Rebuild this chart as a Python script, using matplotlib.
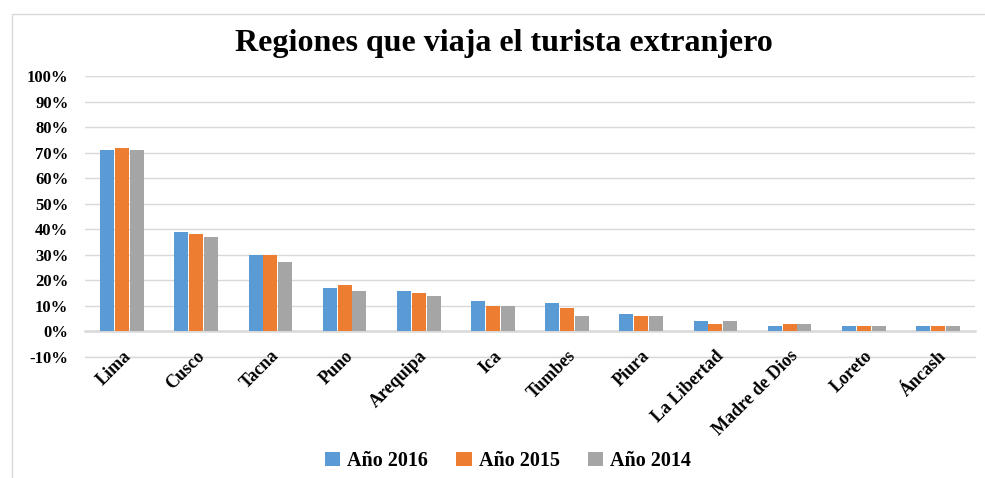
import matplotlib
matplotlib.use("Agg")
import matplotlib.pyplot as plt
import numpy as np
from matplotlib.patches import Rectangle

regions = ["Lima", "Cusco", "Tacna", "Puno", "Arequipa", "Ica", "Tumbes",
           "Piura", "La Libertad", "Madre de Dios", "Loreto", "Áncash"]
anio_2016 = [0.71, 0.39, 0.30, 0.17, 0.16, 0.12, 0.11, 0.07, 0.04, 0.02, 0.02, 0.02]
anio_2015 = [0.72, 0.38, 0.30, 0.18, 0.15, 0.10, 0.09, 0.06, 0.03, 0.03, 0.02, 0.02]
anio_2014 = [0.71, 0.37, 0.27, 0.16, 0.14, 0.10, 0.06, 0.06, 0.04, 0.03, 0.02, 0.02]
series_labels = ["Año 2016", "Año 2015", "Año 2014"]
y_ticks = [-0.1, 0.0, 0.1, 0.2, 0.3, 0.4, 0.5, 0.6, 0.7, 0.8, 0.9, 1.0]
y_ticklabels = ["-10%", "0%", "10%", "20%", "30%", "40%", "50%", "60%", "70%", "80%", "90%", "100%"]

colors = ["#5B9BD5", "#ED7D31", "#A5A5A5"]
serif = ["Liberation Serif", "DejaVu Serif"]
plt.rcParams["font.family"] = serif
plt.rcParams["font.weight"] = "bold"

fig = plt.figure(figsize=(9.85, 4.78), dpi=100)
fig.patches.append(Rectangle((12 / 985, -0.01), 1.0, 1 - 14 / 478 + 0.01,
                             transform=fig.transFigure, fill=False,
                             edgecolor="#D9D9D9", linewidth=1.0))
ax = fig.add_axes([85 / 985, 1 - 357 / 478, 890 / 985, (357 - 76) / 478])
ax.set_axisbelow(True)

x = np.arange(len(regions))
w = 0.19
for i, (vals, lab, c) in enumerate(zip([anio_2016, anio_2015, anio_2014], series_labels, colors)):
    ax.bar(x + (i - 1) * 0.2, vals, width=w, color=c, label=lab, zorder=3)

ax.set_xlim(-0.5, len(regions) - 0.5)
ax.set_ylim(-0.1, 1.0)
ax.set_yticks(y_ticks)
ax.set_yticklabels(y_ticklabels, fontsize=12, fontweight="bold")
ax.yaxis.grid(True, color="#D9D9D9", linewidth=1.0)
ax.axhline(y_ticks[0], color="#D9D9D9", linewidth=1.0, clip_on=False, zorder=0.2)
for s in ax.spines.values():
    s.set_visible(False)
ax.spines["bottom"].set_visible(True)
ax.spines["bottom"].set_position(("data", 0))
ax.spines["bottom"].set_color("#D9D9D9")
ax.spines["bottom"].set_linewidth(1.8)
ax.spines["bottom"].set_zorder(2)
ax.tick_params(axis="y", length=0, pad=12)
ax.tick_params(axis="x", length=0, pad=11.5)
ax.set_xticks(x)
ax.set_xticklabels(regions, rotation=45, ha="right", rotation_mode="anchor",
                   fontsize=13, fontweight="bold")

fig.text(0.512, 1 - 44 / 478, "Regiones que viaja el turista extranjero",
         ha="center", va="center", fontsize=23, fontweight="bold")

fig.legend(loc="center", bbox_to_anchor=(508 / 985, 1 - 461 / 478), ncol=3,
           frameon=False, handlelength=0.75, handleheight=0.75,
           handletextpad=0.35, columnspacing=1.4,
           prop={"weight": "bold", "size": 14.5, "family": serif})

fig.savefig("out.png", dpi=100)
